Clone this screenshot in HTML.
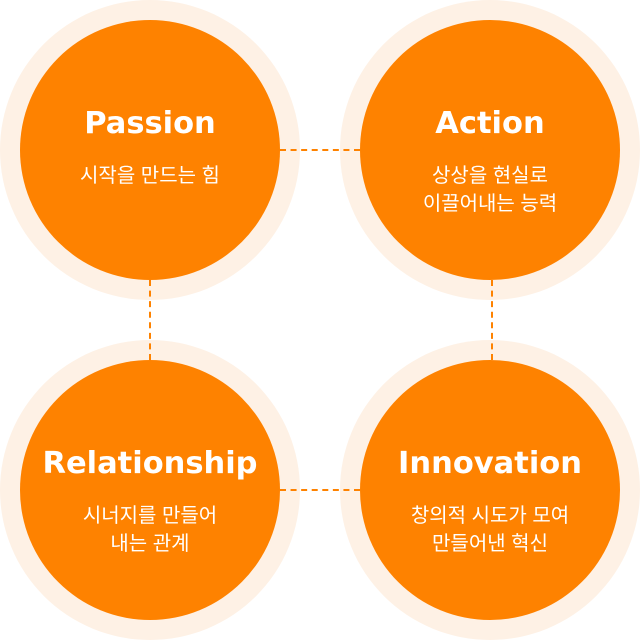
<!DOCTYPE html>
<html><head><meta charset="utf-8"><style>
body{margin:0;width:640px;height:640px;background:#fff;overflow:hidden;position:relative;font-family:"Liberation Sans","Noto Sans CJK KR",sans-serif}
.o{position:absolute;width:300px;height:300px;border-radius:50%;background:#fef1e5}
.i{position:absolute;left:20px;top:20px;width:260px;height:260px;border-radius:50%;background:#fe8200;color:#fff;text-align:center}
.t{position:absolute;left:-20px;right:-20px;top:84px;font-family:"DejaVu Sans",sans-serif;font-size:30.5px;font-weight:bold;line-height:40px}
.s{position:absolute;left:-10px;right:-10px;top:142px;font-size:20px;line-height:28px}
.h{position:absolute;border-top:2px dashed #fe8200;height:0;z-index:2}
.v{position:absolute;border-left:2px dashed #fe8200;width:0;z-index:2}
</style></head><body>
<div class="h" style="left:280px;top:149px;width:80px"></div>
<div class="h" style="left:280px;top:489px;width:80px"></div>
<div class="v" style="left:149px;top:280px;height:80px"></div>
<div class="v" style="left:491px;top:280px;height:80px"></div>
<div class="o" style="left:0;top:0"><div class="i"><div class="t">Passion</div><div class="s">시작을 만드는 힘</div></div></div>
<div class="o" style="left:340px;top:0"><div class="i"><div class="t">Action</div><div class="s">상상을 현실로<br>이끌어내는 능력</div></div></div>
<div class="o" style="left:0;top:340px"><div class="i"><div class="t">Relationship</div><div class="s">시너지를 만들어<br>내는 관계</div></div></div>
<div class="o" style="left:340px;top:340px"><div class="i"><div class="t">Innovation</div><div class="s">창의적 시도가 모여<br>만들어낸 혁신</div></div></div>
</body></html>
